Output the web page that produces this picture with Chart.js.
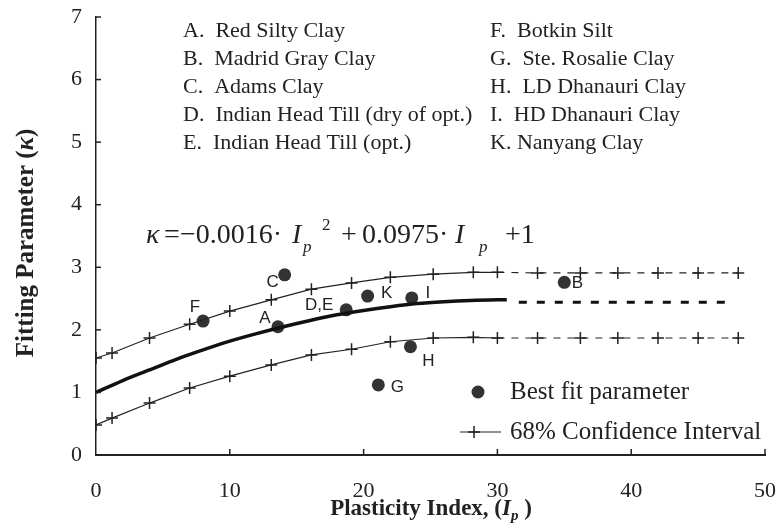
<!DOCTYPE html>
<html>
<head>
<meta charset="utf-8">
<script src="https://cdn.jsdelivr.net/npm/chart.js@4"></script>
<style>
  body { margin: 0; background: #fff; }
</style>
</head>
<body>
<canvas id="chart" width="778" height="525"></canvas>
<script>
// fitted curve (solid part)
const fitX = [0, 2, 4, 6, 8, 10, 12, 14, 16, 18, 20, 22, 24, 26, 28, 30, 30.7];
const fitY = [1.00, 1.19, 1.36, 1.53, 1.68, 1.82, 1.94, 2.05, 2.15, 2.24, 2.31, 2.37, 2.42, 2.45, 2.47, 2.48, 2.48];
// dashed extension of the fit
const extX = [31.6, 47.6];
const extY = [2.44, 2.44];

// 68% confidence interval
const ciX = [0, 1.2, 4, 7, 10, 13.1, 16.1, 19.1, 22, 25.2, 28.2, 30, 33, 36.2, 39, 42, 45, 48];
const ciUpper = [1.55, 1.63, 1.87, 2.09, 2.30, 2.48, 2.65, 2.75, 2.84, 2.89, 2.92, 2.92, 2.91, 2.91, 2.91, 2.91, 2.91, 2.91];
const ciLower = [0.48, 0.59, 0.83, 1.07, 1.26, 1.44, 1.60, 1.69, 1.81, 1.87, 1.88, 1.87, 1.87, 1.87, 1.87, 1.87, 1.87, 1.87];

// best fit parameters per soil
const ptLabels = ['F', 'A', 'C', 'D,E', 'K', 'I', 'G', 'H', 'B'];
const ptX = [8.0, 13.6, 14.1, 18.7, 20.3, 23.6, 21.1, 23.5, 35.0];
const ptY = [2.14, 2.05, 2.88, 2.32, 2.54, 2.51, 1.12, 1.73, 2.76];

const xTicks = [0, 10, 20, 30, 40, 50];
const yTicks = [0, 1, 2, 3, 4, 5, 6, 7];

const soilsLeft = ['A.  Red Silty Clay', 'B.  Madrid Gray Clay', 'C.  Adams Clay',
  'D.  Indian Head Till (dry of opt.)', 'E.  Indian Head Till (opt.)'];
const soilsRight = ['F.  Botkin Silt', 'G.  Ste. Rosalie Clay', 'H.  LD Dhanauri Clay',
  'I.  HD Dhanauri Clay', 'K. Nanyang Clay'];

const SERIF = '"Liberation Serif", "Times New Roman", serif';
const SANS = '"Liberation Sans", Arial, sans-serif';
const INK = '#222';

// label offsets in pixels from each point
const labelOffsets = {
  'F': [-8, -14], 'A': [-13, -8], 'C': [-12, 8], 'D,E': [-27, -5],
  'K': [19, -3], 'I': [16, -5], 'G': [19, 2], 'H': [18, 15], 'B': [13, 1]
};

function pts(xs, ys) {
  return xs.map((x, i) => ({ x: x, y: ys[i] }));
}

// draw a run of text pieces with different fonts / offsets
function richWidth(ctx, parts) {
  let w = 0;
  parts.forEach(p => { ctx.font = p.font; w += ctx.measureText(p.t).width; });
  return w;
}
function drawRich(ctx, x, y, parts) {
  ctx.textAlign = 'left';
  parts.forEach(p => {
    ctx.font = p.font;
    ctx.fillText(p.t, p.x !== undefined ? p.x : x, y + (p.dy || 0));
    x = (p.x !== undefined ? p.x : x) + ctx.measureText(p.t).width;
  });
}

const annotations = {
  id: 'annotations',
  afterDraw(chart) {
    const ctx = chart.ctx;
    const xs = chart.scales.x, ys = chart.scales.y;
    const area = chart.chartArea;
    ctx.save();
    ctx.fillStyle = INK;
    ctx.strokeStyle = INK;

    // inward tick marks
    ctx.lineWidth = 1.5;
    yTicks.forEach(v => {
      const py = ys.getPixelForValue(v);
      ctx.beginPath(); ctx.moveTo(area.left, py); ctx.lineTo(area.left + 5, py); ctx.stroke();
    });
    xTicks.slice(1).forEach(v => {
      const px = xs.getPixelForValue(v);
      ctx.beginPath(); ctx.moveTo(px, area.bottom); ctx.lineTo(px, area.bottom - 6); ctx.stroke();
    });

    // point labels
    ctx.font = '17px ' + SANS;
    ctx.textAlign = 'center';
    ctx.textBaseline = 'middle';
    ptLabels.forEach((lab, i) => {
      const o = labelOffsets[lab];
      ctx.fillText(lab, xs.getPixelForValue(ptX[i]) + o[0], ys.getPixelForValue(ptY[i]) + o[1]);
    });

    // soil list
    ctx.font = '22px ' + SERIF;
    ctx.textAlign = 'left';
    ctx.textBaseline = 'middle';
    soilsLeft.forEach((s, i) => ctx.fillText(s, 183, 31 + i * 28));
    soilsRight.forEach((s, i) => ctx.fillText(s, 490, 31 + i * 28));

    // equation
    ctx.textBaseline = 'alphabetic';
    const f = '28px ' + SERIF, fi = 'italic 28px ' + SERIF, fs = 'italic 17px ' + SERIF, fsup = '17px ' + SERIF;
    drawRich(ctx, 147, 243, [
      { t: 'κ', font: fi, x: 146 }, { t: '=', font: f, x: 164 }, { t: '−0.0016·', font: f, x: 180 },
      { t: 'I', font: fi, x: 292 }, { t: 'p', font: fs, dy: 9, x: 303 }, { t: '2', font: fsup, dy: -13, x: 322 },
      { t: '+', font: f, x: 341 }, { t: '0.0975·', font: f, x: 362 }, { t: 'I', font: fi, x: 455 },
      { t: 'p', font: fs, dy: 9, x: 479 }, { t: '+1', font: f, x: 505 }
    ]);

    // legend
    ctx.textBaseline = 'middle';
    ctx.font = '25px ' + SERIF;
    ctx.fillStyle = '#333';
    ctx.beginPath(); ctx.arc(478, 392, 6.5, 0, Math.PI * 2); ctx.fill();
    ctx.fillStyle = INK;
    ctx.fillText('Best fit parameter', 510, 392);
    ctx.lineWidth = 1.2;
    ctx.beginPath(); ctx.moveTo(460, 432); ctx.lineTo(501, 432); ctx.stroke();
    ctx.lineWidth = 1.5;
    ctx.beginPath(); ctx.moveTo(474, 426); ctx.lineTo(474, 438); ctx.moveTo(468, 432); ctx.lineTo(480, 432); ctx.stroke();
    ctx.fillText('68% Confidence Interval', 510, 432);

    // x axis title
    ctx.textBaseline = 'alphabetic';
    const xt = [
      { t: 'Plasticity Index, (', font: 'bold 23px ' + SERIF },
      { t: 'I', font: 'bold italic 23px ' + SERIF },
      { t: 'p', font: 'bold italic 15px ' + SERIF, dy: 5 },
      { t: ' )', font: 'bold 23px ' + SERIF }
    ];
    drawRich(ctx, 431 - richWidth(ctx, xt) / 2, 515, xt);

    // y axis title
    const yt = [
      { t: 'Fitting Parameter (', font: 'bold 25px ' + SERIF },
      { t: 'κ', font: 'bold italic 25px ' + SERIF },
      { t: ')', font: 'bold 25px ' + SERIF }
    ];
    ctx.translate(27, 243);
    ctx.rotate(-Math.PI / 2);
    ctx.textBaseline = 'middle';
    drawRich(ctx, -richWidth(ctx, yt) / 2, 0, yt);
    ctx.restore();
  }
};

const dashAfter30 = {
  borderDash: c => (c.p0.parsed.x >= 29.9 ? [7, 7] : undefined)
};

new Chart(document.getElementById('chart'), {
  type: 'scatter',
  data: {
    datasets: [
      {
        label: 'Fit', data: pts(fitX, fitY), showLine: true,
        borderColor: '#111', borderWidth: 3.5, pointRadius: 0, tension: 0.3
      },
      {
        label: 'Fit (extended)', data: pts(extX, extY), showLine: true,
        borderColor: '#111', borderWidth: 3, borderDash: [8, 10], pointRadius: 0
      },
      {
        label: 'CI upper', data: pts(ciX, ciUpper), showLine: true,
        borderColor: INK, borderWidth: 1.2, pointStyle: 'cross', pointRadius: 6,
        pointBorderColor: INK, pointBorderWidth: 1.5, segment: dashAfter30
      },
      {
        label: 'CI lower', data: pts(ciX, ciLower), showLine: true,
        borderColor: INK, borderWidth: 1.2, pointStyle: 'cross', pointRadius: 6,
        pointBorderColor: INK, pointBorderWidth: 1.5, segment: dashAfter30
      },
      {
        label: 'Best fit parameter', data: pts(ptX, ptY),
        pointRadius: 6.5, backgroundColor: '#333', borderColor: '#333', pointBorderWidth: 0
      }
    ]
  },
  options: {
    responsive: false,
    animation: false,
    layout: { padding: { top: 17, right: 13, left: 0, bottom: 0 } },
    plugins: { legend: { display: false }, tooltip: { enabled: false } },
    scales: {
      x: {
        type: 'linear', min: 0, max: 50,
        afterBuildTicks: s => { s.ticks = xTicks.map(v => ({ value: v })); },
        ticks: { font: { family: SERIF, size: 22 }, color: INK, padding: 23, maxRotation: 0 },
        grid: { display: false, drawTicks: false, tickLength: 0 },
        border: { display: true, color: INK, width: 2 },
        afterFit: s => { s.height = 70; s.paddingLeft = 0; s.paddingRight = 0; }
      },
      y: {
        type: 'linear', min: 0, max: 7,
        afterBuildTicks: s => { s.ticks = yTicks.map(v => ({ value: v })); },
        ticks: { font: { family: SERIF, size: 22 }, color: INK, padding: 14 },
        grid: { display: false, drawTicks: false, tickLength: 0 },
        border: { display: true, color: INK, width: 1.5 },
        afterFit: s => { s.width = 96; s.paddingTop = 0; s.paddingBottom = 0; }
      }
    }
  },
  plugins: [annotations]
});
</script>
</body>
</html>
